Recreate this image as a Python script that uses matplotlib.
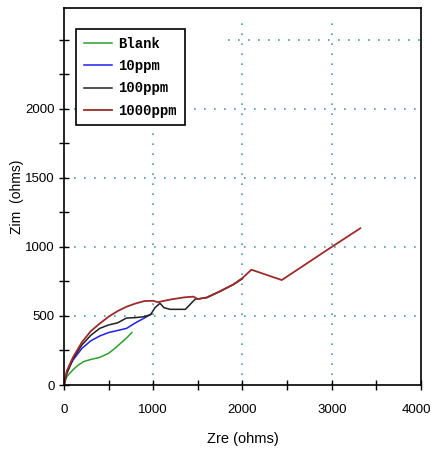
import matplotlib
matplotlib.use("Agg")
import matplotlib.pyplot as plt
from matplotlib.ticker import MultipleLocator
from matplotlib.transforms import ScaledTranslation

# Nyquist data (Zre, Zim in ohms)
blank_zre = [0, 30, 100, 150, 220, 300, 400, 500, 560, 630, 700, 760]
blank_zim = [0, 60, 110, 140, 170, 185, 200, 230, 260, 300, 340, 380]

ppm10_zre = [0, 20, 60, 100, 200, 300, 400, 500, 600, 700, 800, 900, 980]
ppm10_zim = [0, 70, 130, 180, 265, 320, 355, 380, 395, 410, 450, 485, 515]

ppm100_zre = [0, 30, 100, 200, 300, 400, 500, 600, 700, 800, 900, 970, 1020,
              1075, 1120, 1190, 1360, 1470, 1600, 1750, 1900, 2000]
ppm100_zim = [0, 80, 190, 290, 360, 410, 435, 450, 485, 488, 495, 510, 560,
              592, 560, 548, 548, 622, 632, 678, 728, 770]

ppm1000_zre = [0, 30, 100, 200, 300, 400, 500, 600, 700, 800, 900, 1000, 1050,
               1200, 1350, 1450, 1500, 1600, 1750, 1900, 2000, 2100, 2440, 3000, 3320]
ppm1000_zim = [0, 100, 200, 310, 390, 445, 495, 535, 567, 590, 608, 610, 600,
               620, 635, 640, 622, 635, 680, 730, 775, 835, 760, 1000, 1135]

x_ticks = [0, 1000, 2000, 3000, 4000]
y_ticks = [0, 500, 1000, 1500, 2000]

tick_font = ["Liberation Sans", "DejaVu Sans"]
grid_col = "#4f9a9a"
dots = (0, (1, 5))

fig = plt.figure(figsize=(4.34, 4.57), dpi=100)
ax = fig.add_axes([0.1475, 0.1575, 0.8225, 0.825])

# dotted grid (partial, as in the original instrument plot)
ax.vlines(1000, 0, 1860, color=grid_col, linestyle=dots, linewidth=1.2, zorder=0)
ax.vlines([2000, 3000], 0, 2660, color=grid_col, linestyle=dots, linewidth=1.2, zorder=0)
ax.hlines([500, 1000, 1500, 2000], 0, 4000, color=grid_col, linestyle=dots, linewidth=1.2, zorder=0)
ax.hlines(2500, 1840, 4000, color=grid_col, linestyle=dots, linewidth=1.2, zorder=0)

ax.plot(blank_zre, blank_zim, color="#2ca02c", lw=1.1, label="Blank")
ax.plot(ppm10_zre, ppm10_zim, color="#1f1fe8", lw=1.1, label="10ppm")
ax.plot(ppm100_zre, ppm100_zim, color="#202020", lw=1.1, label="100ppm")
ax.plot(ppm1000_zre, ppm1000_zim, color="#9e2a2a", lw=1.3, label="1000ppm")

ax.set_xlim(0, 4000)
ax.set_ylim(0, 2730)
ax.set_xticks(x_ticks)
ax.set_yticks(y_ticks)
ax.xaxis.set_minor_locator(MultipleLocator(500))
ax.yaxis.set_minor_locator(MultipleLocator(250))
ax.tick_params(which="both", direction="inout", length=7, width=1, color="black",
               top=False, right=False)
for lab in ax.get_xticklabels() + ax.get_yticklabels():
    lab.set_family(tick_font)
    lab.set_fontsize(9.5)
ax.tick_params(axis="x", pad=10)
ax.tick_params(axis="y", pad=3)

# last x label would run off the right edge, nudge it left a little
last = ax.get_xticklabels()[-1]
last.set_transform(last.get_transform() + ScaledTranslation(-3 / 72, 0, fig.dpi_scale_trans))

for sp in ax.spines.values():
    sp.set_linewidth(1.2)

ax.set_xlabel("Zre (ohms)", family=tick_font, fontsize=10.5)
ax.xaxis.set_label_coords(0.5, -0.125)
ax.set_ylabel("Zim  (ohms)", family=tick_font, fontsize=10)
ax.yaxis.set_label_coords(-0.112, 0.5)

leg = ax.legend(loc="upper left", bbox_to_anchor=(0.034, 0.944), frameon=True, fancybox=False,
                prop={"family": ["Liberation Mono", "DejaVu Sans Mono"], "size": 10, "weight": "bold"},
                handlelength=2.0, handletextpad=0.5, labelspacing=0.6, borderpad=0.55,
                borderaxespad=0)
leg.get_frame().set_edgecolor("black")
leg.get_frame().set_linewidth(1.2)
leg.get_frame().set_alpha(1)

fig.savefig("out.png", dpi=100)
